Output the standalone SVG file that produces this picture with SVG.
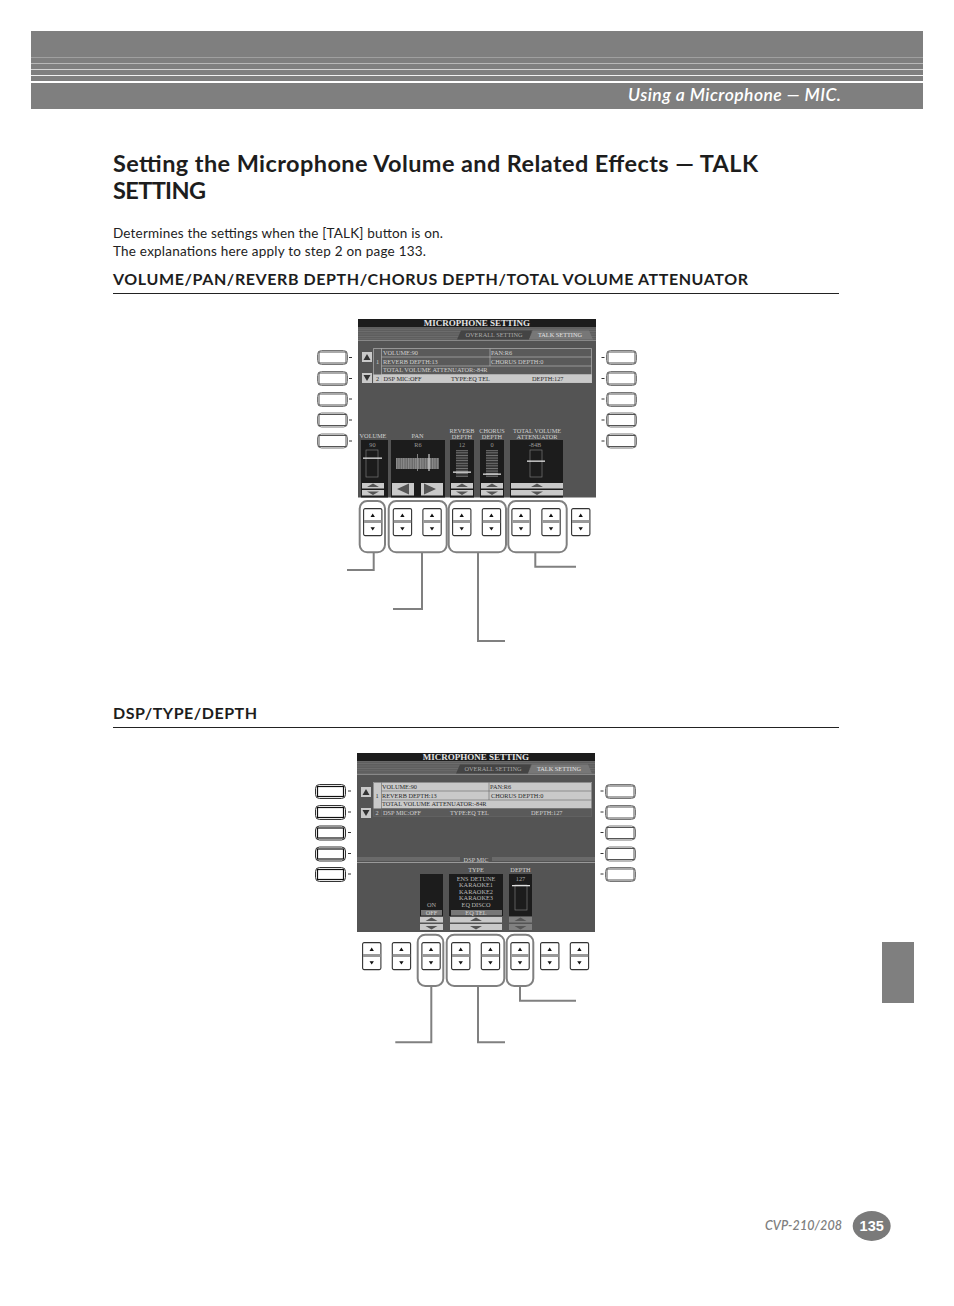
<svg xmlns="http://www.w3.org/2000/svg" width="954" height="1306" viewBox="0 0 954 1306">
<style>
text{font-family:"Lato","Open Sans","Noto Sans",sans-serif;fill:#222}
.h1{font-size:23.500px;font-weight:700;fill:#1d1d1d}
.h2{font-size:16px;font-weight:700;fill:#1d1d1d}
.body{font-size:13.500px}
.rule{stroke:#222;stroke-width:1}
.s{font-family:"Liberation Serif",serif;font-size:6.300px;fill:#d0d0d0}
.sd{font-family:"Liberation Serif",serif;font-size:6.300px;fill:#2a2a2a}
.m{text-anchor:middle}
.st{font-family:"Liberation Serif",serif;font-size:9px;font-weight:700;fill:#e4e4e4;text-anchor:middle}
.scr{fill:#545454}
.blk{fill:#1c1c1c}
.lt{fill:#c9c9c9}
.tri{fill:#333}
.ln{fill:none;stroke:#c0c0c0;stroke-width:.6}
.fd{fill:none;stroke:#777;stroke-width:.7}
.hd{fill:#e0e0e0}
.grp{fill:none;stroke:#808080;stroke-width:2}
.con{fill:none;stroke:#808080;stroke-width:2}
.dash{stroke:#333;stroke-width:1}
</style>
<defs>
<g id="btn">
<rect x=".6" y=".6" width="18.300" height="27" rx="1.500" fill="#fff" stroke="#333" stroke-width="1.100"/>
<rect x="1" y="12" width="17.500" height="3" fill="#999"/>
<path d="M9.700 5.500l2.200 3.400h-4.400zM9.700 22.600l-2.200-3.400h4.400z" fill="#111"/>
</g>
<g id="side">
<rect x=".5" y=".5" width="30" height="14" rx="4" fill="#fff" stroke="#777" stroke-width="1"/>
<rect x="2" y="2" width="27" height="11" fill="#fff" stroke="#444" stroke-width=".9"/>
</g>
<g id="sideB">
<rect x=".5" y=".5" width="30" height="14" rx="4" fill="#fff" stroke="#333" stroke-width="1"/>
<rect x="2.500" y="2.500" width="26" height="10" fill="#fff" stroke="#111" stroke-width="1.200"/>
</g>
<pattern id="stripes" width="4" height="2.400" patternUnits="userSpaceOnUse"><rect width="4" height="2.400" fill="#5e5e5e"/><rect width="4" height=".8" fill="#6e6e6e"/></pattern>
<pattern id="rungs" width="4" height="2.600" patternUnits="userSpaceOnUse"><rect width="4" height="2.600" fill="#333"/><rect width="4" height=".9" fill="#777"/></pattern>
<pattern id="ticks" width="2.400" height="4" patternUnits="userSpaceOnUse"><rect width="2.400" height="4" fill="#666"/><rect width="1.200" height="4" fill="#8c8c8c"/></pattern>
</defs>

<g id="page-header">
<rect x="31" y="31" width="892" height="78" fill="#7f7f7f"/>
<rect x="31" y="57" width="892" height="1" fill="#a0a0a0"/>
<rect x="31" y="63" width="892" height="1" fill="#b8b8b8"/>
<rect x="31" y="69" width="892" height="1" fill="#d4d4d4"/>
<rect x="31" y="75" width="892" height="1" fill="#f0f0f0"/>
<rect x="31" y="81" width="892" height="2" fill="#fff"/>
<text x="628" y="101" font-size="17.500" font-style="italic" font-weight="600" style="fill:#fff" textLength="213" lengthAdjust="spacing">Using a Microphone — MIC.</text>
</g>

<g id="intro">
<text class="h1" x="113" y="172" textLength="645" lengthAdjust="spacing">Setting the Microphone Volume and Related Effects — TALK</text>
<text class="h1" x="113" y="199" textLength="93" lengthAdjust="spacing">SETTING</text>
<text class="body" x="113" y="238" textLength="330" lengthAdjust="spacing">Determines the settings when the [TALK] button is on.</text>
<text class="body" x="113" y="256" textLength="313" lengthAdjust="spacing">The explanations here apply to step 2 on page 133.</text>
</g>

<g id="heading-volume">
<text class="h2" x="113" y="285" textLength="635" lengthAdjust="spacing">VOLUME/PAN/REVERB DEPTH/CHORUS DEPTH/TOTAL VOLUME ATTENUATOR</text>
<line class="rule" x1="113" y1="293.500" x2="839" y2="293.500"/>
</g>

<g id="screen-1">
<rect class="scr" x="358" y="319" width="238" height="178.500"/>
<rect class="blk" x="358" y="319" width="238" height="8"/>
<text class="st" x="477" y="326.300">MICROPHONE SETTING</text>
<rect x="358" y="327" width="238" height="13" fill="url(#stripes)"/>
<path d="M457 339.500l4-9h71l-3 9z" fill="#444"/>
<path d="M529 339.500l4-9h56l4 9z" fill="#777"/>
<text class="s m" x="494" y="337" style="fill:#aaa">OVERALL SETTING</text>
<text class="s m" x="560" y="337" style="fill:#e4e4e4">TALK SETTING</text>
<rect x="358" y="340" width="238" height="1" fill="#888"/>
<rect class="lt" x="362" y="352" width="10" height="10"/>
<path class="tri" d="M367 354l3.500 6h-7z"/>
<rect class="lt" x="362" y="373" width="10" height="10"/>
<path class="tri" d="M367 381l-3.500-6h7z"/>
<rect x="373" y="348" width="219" height="35" fill="#5a5a5a"/>
<rect class="lt" x="373" y="374.500" width="219" height="8.500"/>
<path class="ln" d="M373.500 348.500h218v34h-218zM381.500 348.500v34M381.500 357h210M381.500 366h210M381.500 374.500h210M490 348.500v17.500"/>
<text class="s" x="376" y="363.500">1</text>
<text class="sd" x="376" y="381">2</text>
<text class="s" x="383" y="355">VOLUME:90</text>
<text class="s" x="491" y="355">PAN:R6</text>
<text class="s" x="383" y="363.500">REVERB DEPTH:13</text>
<text class="s" x="491" y="363.500">CHORUS DEPTH:0</text>
<text class="s" x="383" y="372">TOTAL VOLUME ATTENUATOR:-84R</text>
<text class="sd" x="383.500" y="381">DSP MIC:OFF</text>
<text class="sd" x="451" y="381">TYPE:EQ TEL</text>
<text class="sd" x="532" y="381">DEPTH:127</text>

<text class="s m" x="373" y="438">VOLUME</text>
<text class="s m" x="417.500" y="438">PAN</text>
<text class="s m" x="462" y="433">REVERB</text><text class="s m" x="462" y="438.500">DEPTH</text>
<text class="s m" x="492" y="433">CHORUS</text><text class="s m" x="492" y="438.500">DEPTH</text>
<text class="s m" x="537" y="433">TOTAL VOLUME</text><text class="s m" x="537" y="438.500">ATTENUATOR</text>

<rect class="blk" x="361" y="440" width="27" height="57.500"/>
<rect class="blk" x="391" y="440" width="54" height="57.500"/>
<rect class="blk" x="450" y="440" width="24" height="57.500"/>
<rect class="blk" x="480" y="440" width="24" height="57.500"/>
<rect class="blk" x="510" y="440" width="53" height="57.500"/>
<text class="s m" x="372.500" y="447" style="fill:#999">90</text>
<text class="s m" x="418" y="447" style="fill:#999">R6</text>
<text class="s m" x="462" y="447" style="fill:#999">12</text>
<text class="s m" x="492" y="447" style="fill:#999">0</text>
<text class="s m" x="535" y="447" style="fill:#999">-84B</text>

<rect class="fd" x="366" y="450" width="12" height="27"/><rect class="hd" x="363" y="457.500" width="19" height="1.300"/>
<rect x="396" y="458" width="43" height="11" fill="url(#ticks)"/><rect x="417" y="454" width=".8" height="17" fill="#999"/><rect x="428.500" y="454" width="1" height="17" fill="#eee"/>
<rect x="456" y="450" width="12" height="27" fill="url(#rungs)"/><rect class="hd" x="453" y="471.500" width="18" height="1.300"/>
<rect x="486" y="450" width="12" height="27" fill="url(#rungs)"/><rect class="hd" x="483" y="473.500" width="18" height="1.300"/>
<rect class="fd" x="530" y="450" width="12" height="27"/><rect class="hd" x="527" y="460.500" width="18" height="1.300"/>

<g class="lt">
<rect x="362" y="483" width="22" height="5.500"/><rect x="362" y="490" width="22" height="5.500"/>
<rect x="392" y="483" width="22" height="12.500"/><rect x="421" y="483" width="22" height="12.500"/>
<rect x="451" y="483" width="22" height="5.500"/><rect x="451" y="490" width="22" height="5.500"/>
<rect x="481" y="483" width="22" height="5.500"/><rect x="481" y="490" width="22" height="5.500"/>
<rect x="511" y="483" width="52" height="5.500"/><rect x="511" y="490" width="52" height="5.500"/>
</g>
<g fill="#555">
<path d="M373 483.500l6 3.500h-12zM373 495l-6-3.500h12z"/>
<path d="M397 489l12-5.500v11zM436 489l-12-5.500v11z"/>
<path d="M462 483.500l6 3.500h-12zM462 495l-6-3.500h12z"/>
<path d="M492 483.500l6 3.500h-12zM492 495l-6-3.500h12z"/>
<path d="M537 483.500l6 3.500h-12zM537 495l-6-3.500h12z"/>
</g>
</g>

<g id="side-buttons-1">
<use href="#side" x="317" y="350"/><use href="#side" x="317" y="371"/><use href="#side" x="317" y="392"/><use href="#side" x="317" y="412.500"/><use href="#side" x="317" y="433.500"/>
<use href="#side" x="606" y="350"/><use href="#side" x="606" y="371"/><use href="#side" x="606" y="392"/><use href="#side" x="606" y="412.500"/><use href="#side" x="606" y="433.500"/>
<path class="dash" d="M349 357.500h3M349 378.500h3M349 399h3M349 420h3M349 441h3M601.500 357.500h3M601.500 378.500h3M601.500 399h3M601.500 420h3M601.500 441h3"/>
</g>

<g id="data-buttons-1">
<use href="#btn" x="363" y="508"/><use href="#btn" x="392.700" y="508"/><use href="#btn" x="422.300" y="508"/><use href="#btn" x="452" y="508"/><use href="#btn" x="481.700" y="508"/><use href="#btn" x="511.300" y="508"/><use href="#btn" x="541.300" y="508"/><use href="#btn" x="571" y="508"/>
</g>

<g id="connectors-1">
<rect class="grp" x="359.700" y="501" width="25.300" height="51.300" rx="7.500"/>
<rect class="grp" x="388.700" y="501" width="58" height="51.300" rx="7.500"/>
<rect class="grp" x="448.700" y="501" width="57.300" height="51.300" rx="7.500"/>
<rect class="grp" x="508.300" y="501" width="58.400" height="51.300" rx="7.500"/>
<path class="con" d="M373.700 552.300V570H347M422 552.300V609H393M478 552.300V641H505M535.300 552.300V566.700H576"/>
</g>

<g id="heading-dsp">
<text class="h2" x="113" y="719" textLength="144" lengthAdjust="spacing">DSP/TYPE/DEPTH</text>
<line class="rule" x1="113" y1="727.500" x2="839" y2="727.500"/>
</g>

<g id="screen-2">
<rect class="scr" x="357" y="753" width="238" height="179"/>
<rect class="blk" x="357" y="753" width="238" height="8"/>
<text class="st" x="476" y="760.300">MICROPHONE SETTING</text>
<rect x="357" y="761" width="238" height="13" fill="url(#stripes)"/>
<path d="M456 773.500l4-9h71l-3 9z" fill="#444"/>
<path d="M528 773.500l4-9h56l4 9z" fill="#777"/>
<text class="s m" x="493" y="771" style="fill:#aaa">OVERALL SETTING</text>
<text class="s m" x="559" y="771" style="fill:#e4e4e4">TALK SETTING</text>
<rect x="357" y="774" width="238" height="1" fill="#888"/>
<rect class="lt" x="361" y="787" width="10" height="10"/>
<path class="tri" d="M366 789l3.500 6h-7z"/>
<rect class="lt" x="361" y="808" width="10" height="10"/>
<path class="tri" d="M366 816l-3.500-6h7z"/>
<rect class="lt" x="373" y="782" width="219" height="35"/>
<rect x="373" y="808.500" width="219" height="8.500" fill="#5a5a5a"/>
<path d="M373.500 782.500h218v34h-218zM381.500 782.500v34M381.500 791h210M381.500 800h210M381.500 808.500h210M489 782.500v17.500" fill="none" stroke="#666" stroke-width=".6"/>
<text class="sd" x="375.500" y="797.500">1</text>
<text class="s" x="375.500" y="815">2</text>
<text class="sd" x="382" y="789">VOLUME:90</text>
<text class="sd" x="490" y="789">PAN:R6</text>
<text class="sd" x="382" y="797.500">REVERB DEPTH:13</text>
<text class="sd" x="491" y="797.500">CHORUS DEPTH:0</text>
<text class="sd" x="382" y="806">TOTAL VOLUME ATTENUATOR:-84R</text>
<text class="s" x="383" y="815">DSP MIC:OFF</text>
<text class="s" x="450" y="815">TYPE:EQ TEL</text>
<text class="s" x="531" y="815">DEPTH:127</text>

<rect x="357" y="857" width="238" height="4" fill="#6a6a6a"/>
<rect x="357" y="862" width="238" height="1" fill="#999"/>
<rect x="460" y="856" width="32" height="6" class="scr"/>
<text class="s m" x="476" y="861.500">DSP MIC</text>
<text class="s m" x="476" y="871.500">TYPE</text>
<text class="s m" x="520.500" y="871.500">DEPTH</text>
<rect class="blk" x="420" y="874" width="23" height="42"/>
<rect class="blk" x="449" y="874" width="54" height="42"/>
<rect class="blk" x="509" y="874" width="23" height="42"/>
<text class="s m" x="431.500" y="907" style="fill:#aaa">ON</text>
<rect x="421" y="910" width="21" height="5.500" fill="#777"/>
<text class="s m" x="431.500" y="914.500">OFF</text>
<text class="s m" x="476" y="880.500" style="fill:#bbb">ENS DETUNE</text>
<text class="s m" x="476" y="887" style="fill:#bbb">KARAOKE1</text>
<text class="s m" x="476" y="893.800" style="fill:#bbb">KARAOKE2</text>
<text class="s m" x="476" y="900.300" style="fill:#bbb">KARAOKE3</text>
<text class="s m" x="476" y="907" style="fill:#bbb">EQ DISCO</text>
<rect x="451" y="910" width="51" height="5.500" fill="#777"/>
<text class="s m" x="476" y="914.500">EQ TEL</text>
<text class="s m" x="520.500" y="881" style="fill:#aaa">127</text>
<rect class="fd" x="515" y="885" width="12" height="25"/><rect class="hd" x="512" y="885" width="18" height="1.300"/>
<g class="lt">
<rect x="420" y="917" width="23" height="5.500"/><rect x="420" y="924" width="23" height="6"/>
<rect x="450" y="917" width="52" height="5.500"/><rect x="450" y="924" width="52" height="6"/>
</g>
<rect x="509" y="917" width="23" height="5.500" fill="#808080"/><rect x="509" y="924" width="23" height="6" fill="#808080"/>
<g fill="#555">
<path d="M431.500 917.500l6 3.500h-12zM431.500 929.500l-6-3.500h12z"/>
<path d="M476 917.500l6 3.500h-12zM476 929.500l-6-3.500h12z"/>
<path d="M520.500 917.500l6 3.500h-12zM520.500 929.500l-6-3.500h12z"/>
</g>
</g>

<g id="side-buttons-2">
<use href="#sideB" x="315" y="784"/><use href="#sideB" x="315" y="805"/><use href="#sideB" x="315" y="825.500"/><use href="#sideB" x="315" y="846.500"/><use href="#sideB" x="315" y="867"/>
<use href="#side" x="605" y="784"/><use href="#side" x="605" y="805"/><use href="#side" x="605" y="825.500"/><use href="#side" x="605" y="846.500"/><use href="#side" x="605" y="867"/>
<path class="dash" d="M348 791h3M348 812h3M348 832.500h3M348 853.500h3M348 874h3M600.500 791h3M600.500 812h3M600.500 832.500h3M600.500 853.500h3M600.500 874h3"/>
</g>

<g id="data-buttons-2">
<use href="#btn" x="362" y="942"/><use href="#btn" x="391.700" y="942"/><use href="#btn" x="421.300" y="942"/><use href="#btn" x="451" y="942"/><use href="#btn" x="480.700" y="942"/><use href="#btn" x="510.300" y="942"/><use href="#btn" x="540" y="942"/><use href="#btn" x="569.700" y="942"/>
</g>

<g id="connectors-2">
<rect class="grp" x="417.700" y="934.700" width="25.600" height="51.300" rx="7.500"/>
<rect class="grp" x="446.700" y="934.700" width="57.600" height="51.300" rx="7.500"/>
<rect class="grp" x="506.700" y="934.700" width="26.600" height="51.300" rx="7.500"/>
<path class="con" d="M431.300 986V1042.300H395.300M478 986V1042.300H505M520 986V1000.700H576"/>
</g>

<g id="side-tab"><rect x="882" y="942" width="32" height="61" fill="#7f7f7f"/></g>

<g id="footer">
<text x="765" y="1230" font-size="12.500" font-style="italic" font-weight="600" style="fill:#808080" textLength="77" lengthAdjust="spacing">CVP-210/208</text>
<ellipse cx="871.700" cy="1226" rx="19" ry="15" fill="#7a7a7a"/>
<text x="871.700" y="1231" text-anchor="middle" font-size="14.500" font-weight="700" style="font-family:'Liberation Sans',sans-serif;fill:#fff">135</text>
</g>
</svg>
